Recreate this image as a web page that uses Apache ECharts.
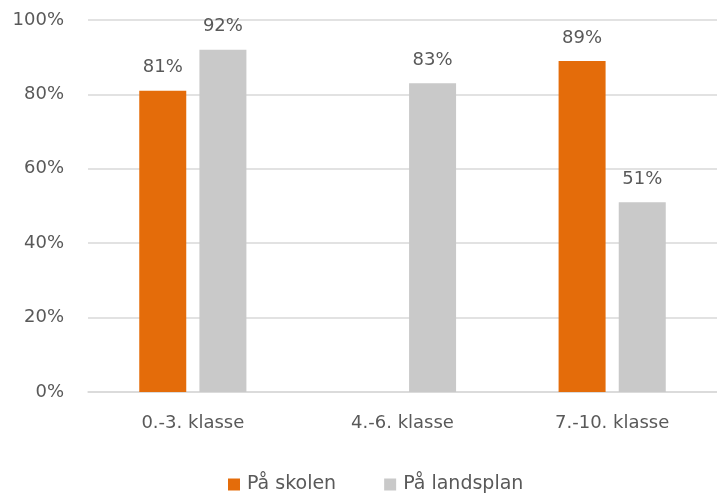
<!DOCTYPE html>
<html><head><meta charset="utf-8">
<script src="https://cdn.jsdelivr.net/npm/echarts@6/dist/echarts.min.js"></script>
<style>html,body{margin:0;padding:0;background:#fff}#c{width:717px;height:494px}</style>
</head><body><div id="c"></div>
<script>
const categories = ['0.-3. klasse', '4.-6. klasse', '7.-10. klasse'];
const seriesNames = ['På skolen', 'På landsplan'];
const skolen = [81, null, 89];
const landsplan = [92, 83, 51];
const yTicks = [0, 20, 40, 60, 80, 100];

const font = '"DejaVu Sans", sans-serif';
const txt = '#595959';
const fs = 18;
const chart = echarts.init(document.getElementById('c'));
chart.setOption({
  animation: false,
  textStyle: { fontFamily: font },
  grid: { left: 88, right: 0, top: 20, bottom: 102 },
  legend: {
    bottom: -5, left: 223, itemWidth: 12, itemHeight: 12, itemGap: 48,
    icon: 'rect',
    textStyle: { color: txt, fontSize: 19, fontFamily: font, padding: [0, 0, 0, 2] },
    data: seriesNames
  },
  xAxis: {
    type: 'category', data: categories,
    axisLine: { lineStyle: { color: '#d9d9d9', width: 1.5 } },
    axisTick: { show: false },
    axisLabel: { color: txt, fontSize: fs, margin: 22, fontFamily: font }
  },
  yAxis: {
    type: 'value', min: yTicks[0], max: yTicks[yTicks.length - 1], interval: 20,
    axisLine: { show: false }, axisTick: { show: false },
    splitLine: { lineStyle: { color: '#d9d9d9', width: 1.5 } },
    axisLabel: { color: txt, fontSize: fs, margin: 24, fontFamily: font, formatter: v => v + '%' }
  },
  series: [
    { name: seriesNames[0], type: 'bar', data: skolen, barWidth: 47, barGap: '28%',
      itemStyle: { color: '#E46C0A' },
      label: { show: true, position: 'top', distance: 14, color: txt, fontSize: fs, fontFamily: font, formatter: p => p.value + '%' } },
    { name: seriesNames[1], type: 'bar', data: landsplan, barWidth: 47,
      itemStyle: { color: '#C9C9C9' },
      label: { show: true, position: 'top', distance: 14, color: txt, fontSize: fs, fontFamily: font, formatter: p => p.value + '%' } }
  ]
});
</script></body></html>
